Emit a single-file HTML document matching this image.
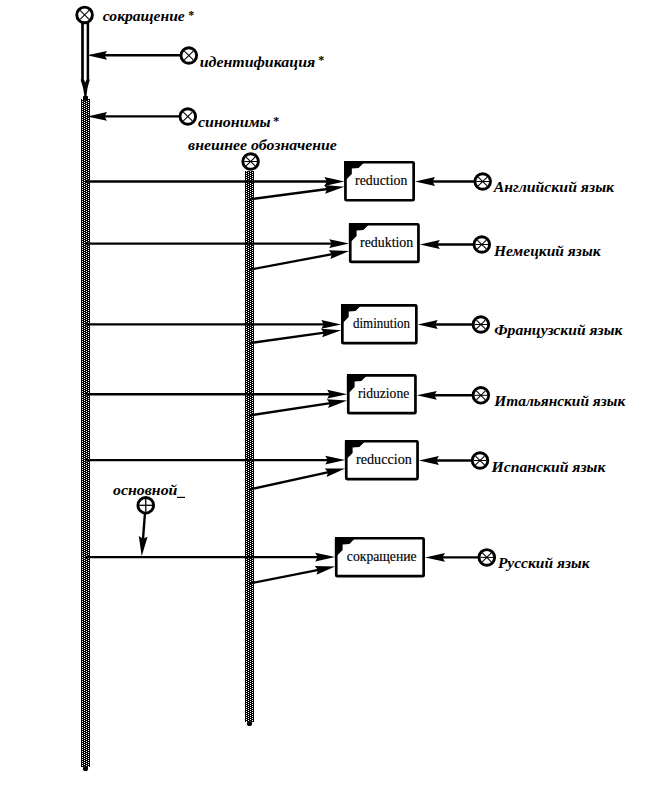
<!DOCTYPE html><html><head><meta charset="utf-8"><style>
html,body{margin:0;padding:0;background:#fff;}
svg{display:block;}
.lb{font-family:"Liberation Serif",serif;font-weight:bold;font-style:italic;font-size:14.7px;}
.bx{font-family:"Liberation Serif",serif;font-size:14px;stroke:#000;stroke-width:0.15px;}
.as{font-family:"Liberation Serif",serif;font-weight:bold;font-size:12px;}
</style></head><body>
<svg width="652" height="789" viewBox="0 0 652 789">
<defs>
<pattern id="dots" patternUnits="userSpaceOnUse" x="0" y="0" width="4" height="2">
<rect x="0" y="0" width="4" height="2" fill="#000"/>
<rect x="0" y="0" width="1" height="1" fill="#fff"/>
<rect x="2" y="1" width="1" height="1" fill="#fff"/>
</pattern>
</defs>
<rect width="652" height="789" fill="#fff"/>

<rect x="81" y="99" width="9" height="668" fill="url(#dots)"/>
<circle cx="85.5" cy="768.5" r="2.6"/>
<rect x="245" y="171" width="9" height="551" fill="url(#dots)"/>
<circle cx="249.5" cy="723.5" r="2.6"/>
<line x1="82.5" y1="22" x2="82.5" y2="82" stroke="#000" stroke-width="2.7"/>
<line x1="87.9" y1="22" x2="87.9" y2="82" stroke="#000" stroke-width="2.5"/>
<path d="M80.6 79.5 L83.9 79.5 L85.3 82.5 L86.7 79.5 L89.8 79.5 Q87 88 86.4 96 L84.4 96 Q83.6 88 80.6 79.5 Z"/>
<rect x="83" y="95.8" width="5" height="5" rx="1.2"/>
<circle cx="84.6" cy="14.9" r="7.8" fill="#fff" stroke="#000" stroke-width="2.9"/><line x1="80.11" y1="10.41" x2="89.09" y2="19.39" stroke="#000" stroke-width="1.05"/><line x1="80.11" y1="19.39" x2="89.09" y2="10.41" stroke="#000" stroke-width="1.05"/>
<line x1="180" y1="55.3" x2="104" y2="55.3" stroke="#000" stroke-width="2.4"/><path d="M87 55.3 L107 50.9 L104.5 55.3 L107 59.7 Z"/>
<circle cx="188.8" cy="55.5" r="7.8" fill="#fff" stroke="#000" stroke-width="2.9"/><line x1="184.31" y1="51.01" x2="193.29" y2="59.99" stroke="#000" stroke-width="1.05"/><line x1="184.31" y1="59.99" x2="193.29" y2="51.01" stroke="#000" stroke-width="1.05"/>
<line x1="179" y1="116.4" x2="104" y2="116.4" stroke="#000" stroke-width="2.4"/><path d="M87 116.4 L107 112 L104.5 116.4 L107 120.8 Z"/>
<circle cx="187.8" cy="116.5" r="7.8" fill="#fff" stroke="#000" stroke-width="2.9"/><line x1="183.31" y1="112.01" x2="192.29" y2="120.99" stroke="#000" stroke-width="1.05"/><line x1="183.31" y1="120.99" x2="192.29" y2="112.01" stroke="#000" stroke-width="1.05"/>
<circle cx="250.6" cy="161.5" r="7.8" fill="#fff" stroke="#000" stroke-width="2.9"/><line x1="246.11" y1="157.01" x2="255.09" y2="165.99" stroke="#000" stroke-width="1.05"/><line x1="246.11" y1="165.99" x2="255.09" y2="157.01" stroke="#000" stroke-width="1.05"/><line x1="244.25" y1="161.5" x2="256.95" y2="161.5" stroke="#000" stroke-width="1"/>
<line x1="86" y1="181.5" x2="327.4" y2="181.5" stroke="#000" stroke-width="2.4"/><path d="M344.4 181.5 L324.4 185.9 L326.9 181.5 L324.4 177.1 Z"/>
<line x1="250" y1="199.33" x2="327.55" y2="189.04" stroke="#000" stroke-width="2.4"/><path d="M344.4 186.8 L325.15 193.79 L327.05 189.1 L323.99 185.07 Z"/>
<rect x="345.45" y="162.25" width="68.2" height="38" fill="#fff" stroke="#000" stroke-width="2.7" rx="1"/><path d="M344.1 160.9 L365.1 160.9 L363.1 163.4 L358.6 167.9 L351.8 168.5 L351.8 173.9 L346.9 178.9 L344.1 180.9 Z"/>
<line x1="474.7" y1="181.5" x2="432" y2="181.5" stroke="#000" stroke-width="2.4"/><path d="M415 181.5 L435 177.1 L432.5 181.5 L435 185.9 Z"/>
<circle cx="482.7" cy="181.5" r="7.8" fill="#fff" stroke="#000" stroke-width="2.9"/><line x1="478.21" y1="177.01" x2="487.19" y2="185.99" stroke="#000" stroke-width="1.05"/><line x1="478.21" y1="185.99" x2="487.19" y2="177.01" stroke="#000" stroke-width="1.05"/><line x1="476.35" y1="181.5" x2="489.05" y2="181.5" stroke="#000" stroke-width="1"/>
<line x1="86" y1="243.6" x2="332.2" y2="243.6" stroke="#000" stroke-width="2.4"/><path d="M349.2 243.6 L329.2 248 L331.7 243.6 L329.2 239.2 Z"/>
<line x1="250" y1="269.65" x2="332.49" y2="254.14" stroke="#000" stroke-width="2.4"/><path d="M349.2 251 L330.36 259.02 L332 254.23 L328.73 250.37 Z"/>
<rect x="350.25" y="224.25" width="68.2" height="37.7" fill="#fff" stroke="#000" stroke-width="2.7" rx="1"/><path d="M348.9 222.9 L369.9 222.9 L367.9 225.4 L363.4 229.9 L356.6 230.5 L356.6 235.9 L351.7 240.9 L348.9 242.9 Z"/>
<line x1="473.8" y1="244.5" x2="436.8" y2="244.5" stroke="#000" stroke-width="2.4"/><path d="M419.8 244.5 L439.8 240.1 L437.3 244.5 L439.8 248.9 Z"/>
<circle cx="481.8" cy="244.5" r="7.8" fill="#fff" stroke="#000" stroke-width="2.9"/><line x1="477.31" y1="240.01" x2="486.29" y2="248.99" stroke="#000" stroke-width="1.05"/><line x1="477.31" y1="248.99" x2="486.29" y2="240.01" stroke="#000" stroke-width="1.05"/><line x1="475.45" y1="244.5" x2="488.15" y2="244.5" stroke="#000" stroke-width="1"/>
<line x1="86" y1="324.4" x2="324.3" y2="324.4" stroke="#000" stroke-width="2.4"/><path d="M341.3 324.4 L321.3 328.8 L323.8 324.4 L321.3 320 Z"/>
<line x1="250" y1="343.07" x2="324.47" y2="332.57" stroke="#000" stroke-width="2.4"/><path d="M341.3 330.2 L322.11 337.35 L323.97 332.64 L320.88 328.63 Z"/>
<rect x="342.35" y="305.35" width="74" height="37.8" fill="#fff" stroke="#000" stroke-width="2.7" rx="1"/><path d="M341 304 L362 304 L360 306.5 L355.5 311 L348.7 311.6 L348.7 317 L343.8 322 L341 324 Z"/>
<line x1="472.85" y1="324.5" x2="434.7" y2="324.5" stroke="#000" stroke-width="2.4"/><path d="M417.7 324.5 L437.7 320.1 L435.2 324.5 L437.7 328.9 Z"/>
<circle cx="480.85" cy="324.5" r="7.8" fill="#fff" stroke="#000" stroke-width="2.9"/><line x1="476.36" y1="320.01" x2="485.34" y2="328.99" stroke="#000" stroke-width="1.05"/><line x1="476.36" y1="328.99" x2="485.34" y2="320.01" stroke="#000" stroke-width="1.05"/><line x1="474.5" y1="324.5" x2="487.2" y2="324.5" stroke="#000" stroke-width="1"/>
<line x1="86" y1="394.2" x2="330.2" y2="394.2" stroke="#000" stroke-width="2.4"/><path d="M347.2 394.2 L327.2 398.6 L329.7 394.2 L327.2 389.8 Z"/>
<line x1="250" y1="415.42" x2="330.4" y2="403.08" stroke="#000" stroke-width="2.4"/><path d="M347.2 400.5 L328.1 407.88 L329.9 403.15 L326.76 399.18 Z"/>
<rect x="348.25" y="375.35" width="67.2" height="37.8" fill="#fff" stroke="#000" stroke-width="2.7" rx="1"/><path d="M346.9 374 L367.9 374 L365.9 376.5 L361.4 381 L354.6 381.6 L354.6 387 L349.7 392 L346.9 394 Z"/>
<line x1="472.85" y1="395.3" x2="433.8" y2="395.3" stroke="#000" stroke-width="2.4"/><path d="M416.8 395.3 L436.8 390.9 L434.3 395.3 L436.8 399.7 Z"/>
<circle cx="480.85" cy="395.3" r="7.8" fill="#fff" stroke="#000" stroke-width="2.9"/><line x1="476.36" y1="390.81" x2="485.34" y2="399.79" stroke="#000" stroke-width="1.05"/><line x1="476.36" y1="399.79" x2="485.34" y2="390.81" stroke="#000" stroke-width="1.05"/><line x1="474.5" y1="395.3" x2="487.2" y2="395.3" stroke="#000" stroke-width="1"/>
<line x1="86" y1="460.1" x2="328.2" y2="460.1" stroke="#000" stroke-width="2.4"/><path d="M345.2 460.1 L325.2 464.5 L327.7 460.1 L325.2 455.7 Z"/>
<line x1="250" y1="489.38" x2="328.6" y2="472.06" stroke="#000" stroke-width="2.4"/><path d="M345.2 468.4 L326.62 477 L328.11 472.17 L324.72 468.41 Z"/>
<rect x="346.25" y="441.25" width="71.3" height="37.8" fill="#fff" stroke="#000" stroke-width="2.7" rx="1"/><path d="M344.9 439.9 L365.9 439.9 L363.9 442.4 L359.4 446.9 L352.6 447.5 L352.6 452.9 L347.7 457.9 L344.9 459.9 Z"/>
<line x1="472" y1="460.5" x2="435.9" y2="460.5" stroke="#000" stroke-width="2.4"/><path d="M418.9 460.5 L438.9 456.1 L436.4 460.5 L438.9 464.9 Z"/>
<circle cx="480" cy="460.5" r="7.8" fill="#fff" stroke="#000" stroke-width="2.9"/><line x1="475.51" y1="456.01" x2="484.49" y2="464.99" stroke="#000" stroke-width="1.05"/><line x1="475.51" y1="464.99" x2="484.49" y2="456.01" stroke="#000" stroke-width="1.05"/><line x1="473.65" y1="460.5" x2="486.35" y2="460.5" stroke="#000" stroke-width="1"/>
<line x1="86" y1="557.1" x2="318.2" y2="557.1" stroke="#000" stroke-width="2.4"/><path d="M335.2 557.1 L315.2 561.5 L317.7 557.1 L315.2 552.7 Z"/>
<line x1="250" y1="583.4" x2="318.52" y2="569.81" stroke="#000" stroke-width="2.4"/><path d="M335.2 566.5 L316.44 574.71 L318.03 569.9 L314.73 566.07 Z"/>
<rect x="336.25" y="538.25" width="87.4" height="37.9" fill="#fff" stroke="#000" stroke-width="2.7" rx="1"/><path d="M334.9 536.9 L355.9 536.9 L353.9 539.4 L349.4 543.9 L342.6 544.5 L342.6 549.9 L337.7 554.9 L334.9 556.9 Z"/>
<line x1="478.8" y1="557.4" x2="442" y2="557.4" stroke="#000" stroke-width="2.4"/><path d="M425 557.4 L445 553 L442.5 557.4 L445 561.8 Z"/>
<circle cx="486.8" cy="557.4" r="7.8" fill="#fff" stroke="#000" stroke-width="2.9"/><line x1="482.31" y1="552.91" x2="491.29" y2="561.89" stroke="#000" stroke-width="1.05"/><line x1="482.31" y1="561.89" x2="491.29" y2="552.91" stroke="#000" stroke-width="1.05"/><line x1="480.45" y1="557.4" x2="493.15" y2="557.4" stroke="#000" stroke-width="1"/>
<line x1="144.9" y1="514" x2="142.98" y2="539.35" stroke="#000" stroke-width="2.4"/><path d="M141.7 556.3 L138.82 536.03 L143.02 538.85 L147.6 536.69 Z"/>
<circle cx="145.75" cy="505.3" r="7.8" fill="#fff" stroke="#000" stroke-width="2.9"/><line x1="139.4" y1="505.3" x2="152.1" y2="505.3" stroke="#000" stroke-width="1.3"/><line x1="145.75" y1="498.95" x2="145.75" y2="511.65" stroke="#000" stroke-width="1.3"/>
<rect x="177" y="496.8" width="8" height="1.2"/>
<text x="102.8" y="21.1" class="lb" textLength="82" lengthAdjust="spacingAndGlyphs">сокращение</text>
<text x="188.3" y="19" class="as">*</text>
<text x="199.7" y="66.6" class="lb" textLength="115.5" lengthAdjust="spacingAndGlyphs">идентификация</text>
<text x="318.3" y="63.9" class="as">*</text>
<text x="198" y="127.1" class="lb" textLength="72.7" lengthAdjust="spacingAndGlyphs">синонимы</text>
<text x="273.2" y="125" class="as">*</text>
<text x="188.1" y="149.6" class="lb" textLength="148.8" lengthAdjust="spacingAndGlyphs">внешнее обозначение</text>
<text x="493.8" y="192.4" class="lb" textLength="120.3" lengthAdjust="spacingAndGlyphs">Английский язык</text>
<text x="494" y="255.6" class="lb" textLength="106.6" lengthAdjust="spacingAndGlyphs">Немецкий язык</text>
<text x="494.3" y="335" class="lb" textLength="128.1" lengthAdjust="spacingAndGlyphs">Французский язык</text>
<text x="494.3" y="406" class="lb" textLength="130.9" lengthAdjust="spacingAndGlyphs">Итальянский язык</text>
<text x="491.6" y="471.5" class="lb" textLength="113.8" lengthAdjust="spacingAndGlyphs">Испанский язык</text>
<text x="497.9" y="567.8" class="lb" textLength="91.7" lengthAdjust="spacingAndGlyphs">Русский язык</text>
<text x="113" y="494.5" class="lb" textLength="64.4" lengthAdjust="spacingAndGlyphs">основной</text>
<text x="355.1" y="184.7" class="bx" textLength="52.2" lengthAdjust="spacingAndGlyphs">reduction</text>
<text x="360.1" y="247.3" class="bx" textLength="53.1" lengthAdjust="spacingAndGlyphs">reduktion</text>
<text x="353" y="328" class="bx" textLength="57" lengthAdjust="spacingAndGlyphs">diminution</text>
<text x="358" y="397.7" class="bx" textLength="51.2" lengthAdjust="spacingAndGlyphs">riduzione</text>
<text x="356" y="464.1" class="bx" textLength="55.8" lengthAdjust="spacingAndGlyphs">reduccion</text>
<text x="346.8" y="560.8" class="bx" textLength="69.9" lengthAdjust="spacingAndGlyphs">сокращение</text>
</svg></body></html>
